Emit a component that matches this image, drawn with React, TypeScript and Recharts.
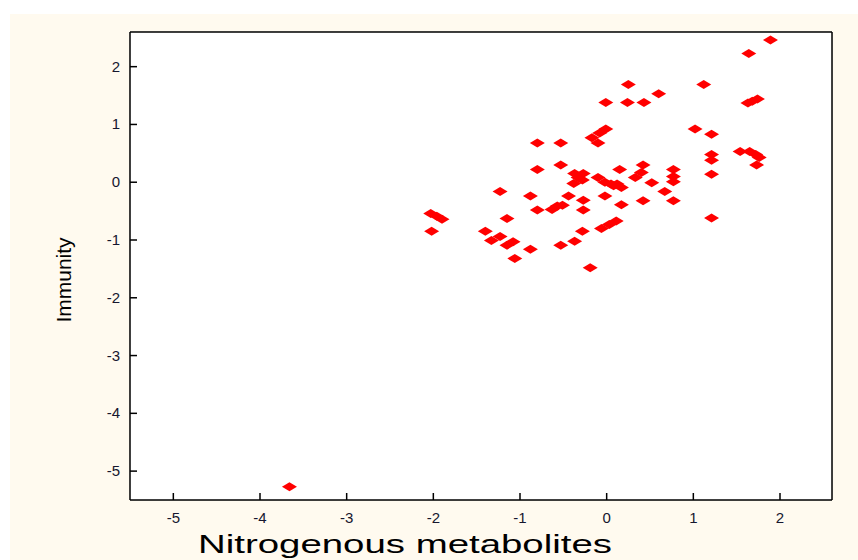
import React from 'react';
import { ScatterChart, Scatter, XAxis, YAxis, CartesianGrid, Label } from 'recharts';

// values: x = nitrogenous metabolites, y = immunity
const nitrogenous = [
  1.89, 1.64, 0.25, 1.12, 0.6, -0.01, 0.24, 0.43, 1.63, 1.68, 1.74,
  -0.01, -0.08, -0.17, -0.1, -0.8, -0.53, 1.02, 1.21, 1.54, 1.65, 1.72,
  1.76, 1.73, 1.21, 1.21, 1.21, 1.21, -0.8, -0.53, -0.37, -0.27, -0.33,
  -0.38, -0.28, -0.1, -0.02, 0.08, 0.17, 0.15, 0.42, 0.4, 0.33, 0.52,
  0.77, 0.77, 0.77, 0.67, 0.77, 0.42, 0.17, -0.02, -1.23, -0.88, -0.44,
  -0.27, -0.27, -0.8, -0.63, -0.57, -0.51, -2.03, -1.96, -1.9, -2.02,
  -1.15, -1.4, -1.33, -1.23, -1.15, -1.08, -1.06, -0.88, -0.53, -0.37,
  -0.28, -0.19, -0.06, 0.03, 0.11, -3.66, 0.05, 0.12,
];
const immunity = [
  2.46, 2.23, 1.69, 1.69, 1.53, 1.38, 1.38, 1.38, 1.37, 1.4, 1.44,
  0.92, 0.85, 0.77, 0.68, 0.68, 0.68, 0.92, 0.83, 0.53, 0.53, 0.48,
  0.43, 0.3, 0.48, 0.38, 0.14, -0.62, 0.22, 0.3, 0.15, 0.15, 0.08,
  -0.02, 0.04, 0.08, 0.0, -0.06, -0.09, 0.22, 0.3, 0.17, 0.08, -0.01,
  0.22, 0.1, 0.01, -0.16, -0.32, -0.32, -0.39, -0.24, -0.16, -0.24, -0.24,
  -0.31, -0.48, -0.48, -0.47, -0.41, -0.4, -0.54, -0.59, -0.64, -0.85,
  -0.63, -0.85, -1.01, -0.94, -1.09, -1.03, -1.32, -1.16, -1.09, -1.02,
  -0.85, -1.48, -0.8, -0.73, -0.67, -5.27, -0.03, -0.03,
];
const xTicks = [-5, -4, -3, -2, -1, 0, 1, 2];
const yTicks = [-5, -4, -3, -2, -1, 0, 1, 2];
const topTicks = [1, 2, 3, 4, 5, 6];

const points = nitrogenous.map((x, i) => ({ x, y: immunity[i] }));

const font = 'Liberation Sans, Arial, sans-serif';
const frame = { stroke: '#000', strokeWidth: 1.5 };
const tickMark = { stroke: '#000', strokeWidth: 1.5 };

const XTick = (p: any) => (
  <text x={p.x} y={p.y} dy={10} textAnchor="middle" fontSize={15} fontFamily={font} fill="#16162e">
    {p.payload.value}
  </text>
);

const YTick = (p: any) => (
  <text x={p.x} y={p.y} dy={5} textAnchor="end" fontSize={15} fontFamily={font} fill="#16162e">
    {p.payload.value}
  </text>
);

const Diamond = (props: any) => {
  const { cx, cy } = props;
  if (cx == null || cy == null) return null;
  return (
    <polygon
      points={`${cx - 7.5},${cy} ${cx},${cy - 4.5} ${cx + 7.5},${cy} ${cx},${cy + 4.5}`}
      fill="#ff0000"
    />
  );
};

const XTitle = () => (
  <text x={188} y={539} fontSize={26} fontFamily={font} fill="#000"
    textLength={414} lengthAdjust="spacingAndGlyphs">
    Nitrogenous metabolites
  </text>
);

const YTitle = () => (
  <text x={54} y={266} fontSize={20} fontFamily={font} fill="#000"
    textAnchor="middle" dominantBaseline="central" transform="rotate(-90 54 266)"
    textLength={85} lengthAdjust="spacingAndGlyphs">
    Immunity
  </text>
);

export default function App() {
  return (
    <div style={{ position: 'absolute', left: 0, top: 0, width: 858, height: 560, background: '#fff' }}>
      <div style={{ position: 'absolute', left: 10, top: 14, width: 848, height: 546, background: '#fffaef' }}>
        <ScatterChart width={848} height={546} margin={{ top: 17, right: 25, bottom: 0, left: 0 }}>
          <rect x={120} y={18} width={702} height={468} fill="#fff" />
          <CartesianGrid stroke="#dadada" strokeWidth={1.2} />
          <XAxis
            type="number" dataKey="x" domain={[-5.5, 2.6]} ticks={xTicks} allowDataOverflow
            height={60} tickSize={-7} tickMargin={20} tick={XTick}
            axisLine={frame} tickLine={tickMark}
          >
            <Label content={XTitle} />
          </XAxis>
          <XAxis
            xAxisId="top" orientation="top" type="number" domain={[0, 7]} ticks={topTicks}
            height={1} tickSize={-7} tick={false} axisLine={frame} tickLine={tickMark}
          />
          <YAxis
            type="number" dataKey="y" domain={[-5.5, 2.6]} ticks={yTicks} allowDataOverflow
            width={120} tickSize={-7} tickMargin={17} tick={YTick}
            axisLine={frame} tickLine={tickMark}
          >
            <Label content={YTitle} />
          </YAxis>
          <YAxis
            yAxisId="right" orientation="right" type="number" domain={[-5.5, 2.6]} ticks={yTicks}
            width={1} tickSize={-7} tick={false} axisLine={frame} tickLine={tickMark}
          />
          <Scatter data={points} shape={Diamond} isAnimationActive={false} />
        </ScatterChart>
      </div>
    </div>
  );
}
